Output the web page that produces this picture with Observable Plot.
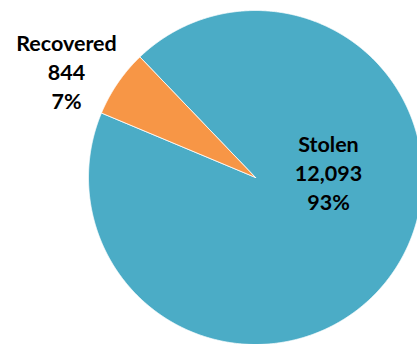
<!DOCTYPE html>
<html><head><meta charset="utf-8">
<script src="https://cdn.jsdelivr.net/npm/d3@7"></script>
<script src="https://cdn.jsdelivr.net/npm/@observablehq/plot@0.6"></script>
<style>html,body{margin:0;padding:0;background:#fff;} svg{display:block}</style>
</head><body><div id="chart"></div>
<script>
// Data
const categories = ["Stolen", "Recovered"];
const values = [12093, 844];
const valueLabels = ["12,093", "844"];
const percentLabels = ["93%", "7%"];
const colors = ["#4BACC6", "#F79646"];

// Layout (pie radius = 1 in data units)
const R_PX = 167, CX = 255, CY = 177, W = 417, H = 344;
const START = 316.2 * Math.PI / 180;
const labelPos = { Stolen: [0.437, 0.032], Recovered: [-1.132, 0.642] };

const data = categories.map((c, i) => ({category: c, value: values[i]}));
const arcs = d3.pie().value(d => d.value).sort(null)
  .startAngle(START).endAngle(START + 2 * Math.PI)(data);

const pts = [];
for (const a of arcs) {
  const cat = a.data.category;
  pts.push({category: cat, x: 0, y: 0});
  const n = Math.max(2, Math.ceil((a.endAngle - a.startAngle) / 0.004));
  for (let k = 0; k <= n; k++) {
    const t = a.startAngle + (a.endAngle - a.startAngle) * k / n;
    pts.push({category: cat, x: Math.sin(t), y: Math.cos(t)});
  }
  pts.push({category: cat, x: 0, y: 0});
}

const labels = categories.map((c, i) => ({
  x: labelPos[c][0], y: labelPos[c][1],
  text: `${c}\n${valueLabels[i]}\n${percentLabels[i]}`
}));

const chart = Plot.plot({
  width: W, height: H, margin: 0,
  style: {fontFamily: "Lato", background: "#fff", overflow: "hidden"},
  x: {domain: [-CX / R_PX, (W - CX) / R_PX], axis: null},
  y: {domain: [(CY - H) / R_PX, CY / R_PX], axis: null},
  color: {domain: categories, range: colors},
  marks: [
    Plot.line(pts, {x: "x", y: "y", z: "category", fill: "category", stroke: "white", strokeWidth: 0.8, curve: "linear-closed", clip: true}),
    Plot.text(labels, {x: "x", y: "y", text: "text", fontSize: 21.5, fontWeight: "bold", fill: "#000", lineHeight: 29 / 21.5})
  ]
});
document.getElementById("chart").appendChild(chart);
</script>
</body></html>
